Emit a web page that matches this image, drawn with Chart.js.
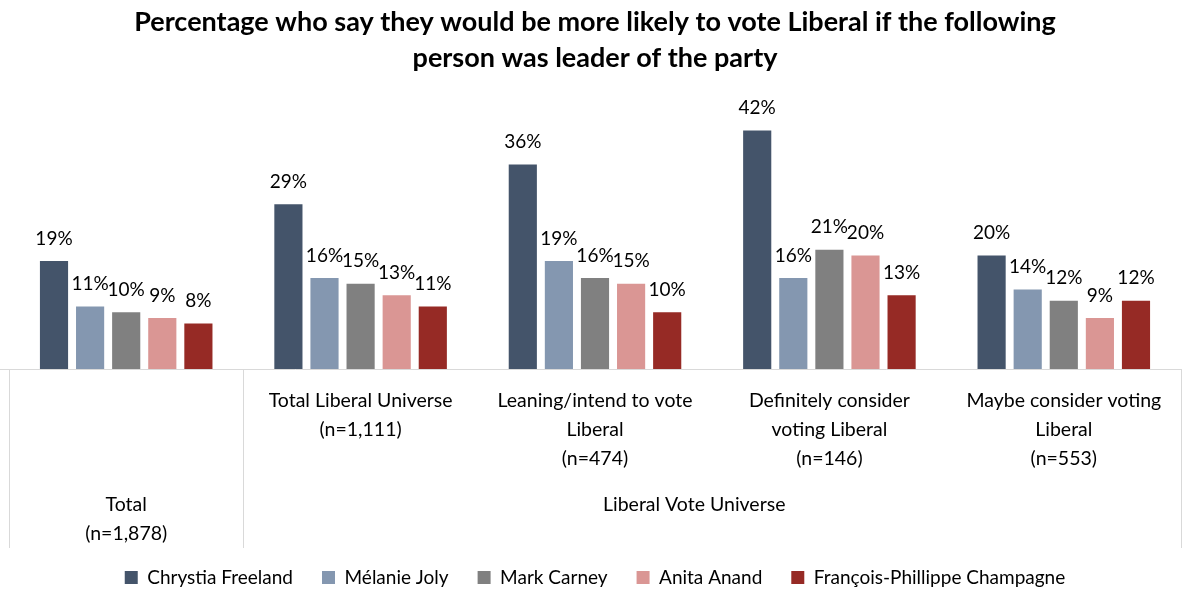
<!DOCTYPE html>
<html>
<head>
<meta charset="utf-8">
<script src="https://cdn.jsdelivr.net/npm/chart.js@4.4.1/dist/chart.umd.min.js"></script>
<style>
  html, body { margin: 0; padding: 0; background: #fff; }
  #wrap { width: 1182px; height: 597px; }
</style>
</head>
<body>
<div id="wrap"><canvas id="leaderChart"></canvas></div>
<script>
// ========== DATA ==========
const categories = [
  ['Total', '(n=1,878)'],
  ['Total Liberal Universe', '(n=1,111)'],
  ['Leaning/intend to vote', 'Liberal', '(n=474)'],
  ['Definitely consider', 'voting Liberal', '(n=146)'],
  ['Maybe consider voting', 'Liberal', '(n=553)']
];
const groupLabel = 'Liberal Vote Universe';
const seriesNames = ['Chrystia Freeland', 'Mélanie Joly', 'Mark Carney', 'Anita Anand', 'François-Phillippe Champagne'];
const freeland = [19, 29, 36, 42, 20];
const joly = [11, 16, 19, 16, 14];
const carney = [10, 15, 16, 21, 12];
const anand = [9, 13, 15, 20, 9];
const champagne = [8, 11, 10, 13, 12];
const seriesColors = ['#44546A', '#8497B0', '#808080', '#DA9694', '#962A25'];

const FONT = 'Lato, "Open Sans", sans-serif';

// ========== PLUGINS ==========
// percentage above every bar
const barValueLabels = {
  id: 'barValueLabels',
  afterDatasetsDraw(chart) {
    const { ctx } = chart;
    ctx.save();
    ctx.font = '19px ' + FONT;
    ctx.fillStyle = '#000';
    ctx.textAlign = 'center';
    ctx.textBaseline = 'bottom';
    chart.data.datasets.forEach((ds, i) => {
      chart.getDatasetMeta(i).data.forEach((bar, j) => {
        ctx.fillText(ds.data[j] + '%', bar.x, bar.y - 13);
      });
    });
    ctx.restore();
  }
};

// table-like frame under the bars + second level of the category axis
const axisFrame = {
  id: 'axisFrame',
  afterDraw(chart) {
    const { ctx, chartArea } = chart;
    const x = chart.scales.x;
    const top = chartArea.bottom;
    const bottom = x.bottom + 9;
    const half = (x.getPixelForValue(1) - x.getPixelForValue(0)) / 2;
    const edges = [x.left, x.getPixelForValue(0) + half, x.right];

    ctx.save();
    ctx.strokeStyle = '#D9D9D9';
    ctx.lineWidth = 1;
    ctx.beginPath();
    ctx.moveTo(0, top + 0.5);
    ctx.lineTo(chart.width, top + 0.5);
    edges.forEach(e => {
      const px = Math.round(e) + 0.5;
      ctx.moveTo(px, top);
      ctx.lineTo(px, bottom);
    });
    ctx.stroke();

    ctx.font = '19.5px ' + FONT;
    ctx.fillStyle = '#000';
    ctx.textAlign = 'center';
    ctx.textBaseline = 'middle';
    const c0 = x.getPixelForValue(0);
    categories[0].forEach((line, k) => ctx.fillText(line, c0, 505 + k * 29));
    const mid = (x.getPixelForValue(1) + x.getPixelForValue(4)) / 2 - 18;
    ctx.fillText(groupLabel, mid, 505);
    ctx.restore();
  }
};

// ========== CHART ==========
function initLeaderChart() {
  const el = document.getElementById('leaderChart');
  const seriesData = [freeland, joly, carney, anand, champagne];

  new Chart(el.getContext('2d'), {
    type: 'bar',
    data: {
      labels: categories,
      datasets: seriesNames.map((name, i) => ({
        label: name,
        data: seriesData[i],
        backgroundColor: seriesColors[i],
        categoryPercentage: 0.77,
        barPercentage: 0.78
      }))
    },
    options: {
      responsive: true,
      maintainAspectRatio: false,
      animation: false,
      layout: { padding: { left: 9, right: 1, top: 0, bottom: 0 } },
      plugins: {
        title: {
          display: true,
          text: [
            'Percentage who say they would be more likely to vote Liberal if the following',
            'person was leader of the party'
          ],
          color: '#000',
          font: { family: FONT, size: 27, weight: 'bold', lineHeight: 1.333 },
          padding: { top: 4, bottom: 9 }
        },
        legend: {
          position: 'bottom',
          labels: {
            color: '#000',
            font: { family: FONT, size: 19 },
            boxWidth: 13,
            boxHeight: 13,
            padding: 29
          }
        },
        tooltip: { enabled: false }
      },
      scales: {
        x: {
          grid: { display: false },
          border: { display: false },
          ticks: {
            color: '#000',
            font: { family: FONT, size: 19.5, lineHeight: 1.5 },
            padding: 9,
            maxRotation: 0,
            autoSkip: false,
            callback: (v, i) => (i === 0 ? '' : categories[i])
          },
          afterFit: scale => { scale.height = 170; }
        },
        y: {
          display: false,
          min: 0,
          max: 50
        }
      }
    },
    plugins: [barValueLabels, axisFrame]
  });
}

document.addEventListener('DOMContentLoaded', initLeaderChart);
</script>
</body>
</html>
